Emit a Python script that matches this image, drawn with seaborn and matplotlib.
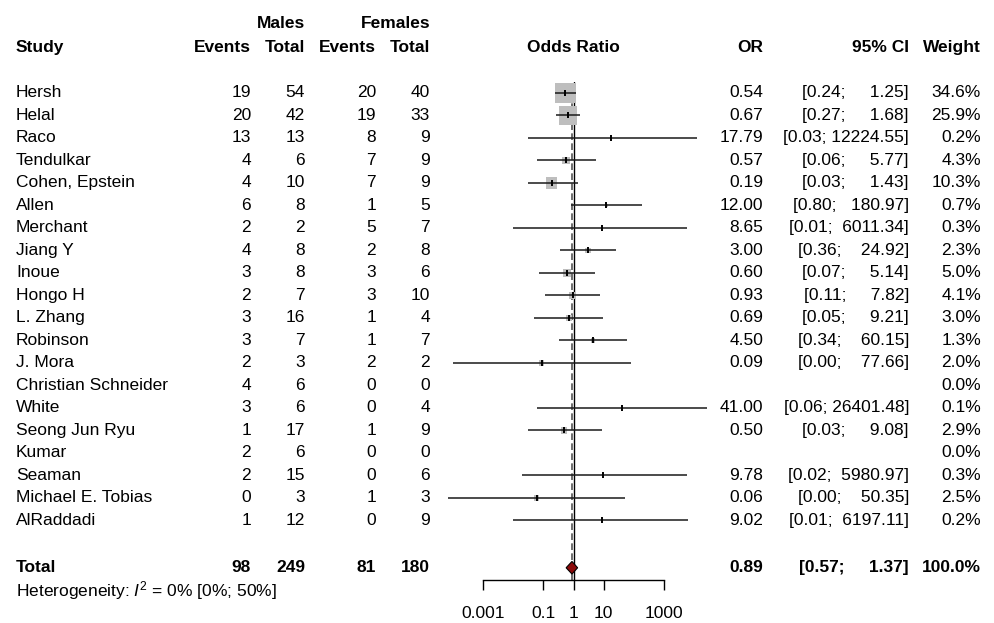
import numpy as np
import pandas as pd
import matplotlib
matplotlib.use("Agg")
import matplotlib.pyplot as plt
import matplotlib.transforms as mtransforms
import seaborn as sns

# data
studies = [
    "Hersh", "Helal", "Raco", "Tendulkar", "Cohen, Epstein", "Allen", "Merchant",
    "Jiang Y", "Inoue", "Hongo H", "L. Zhang", "Robinson", "J. Mora",
    "Christian Schneider", "White", "Seong Jun Ryu", "Kumar", "Seaman",
    "Michael E. Tobias", "AlRaddadi",
]
male_events = [19, 20, 13, 4, 4, 6, 2, 4, 3, 2, 3, 3, 2, 4, 3, 1, 2, 2, 0, 1]
male_total = [54, 42, 13, 6, 10, 8, 2, 8, 8, 7, 16, 7, 3, 6, 6, 17, 6, 15, 3, 12]
female_events = [20, 19, 8, 7, 7, 1, 5, 2, 3, 3, 1, 1, 2, 0, 0, 1, 0, 0, 1, 0]
female_total = [40, 33, 9, 9, 9, 5, 7, 8, 6, 10, 4, 7, 2, 0, 4, 9, 0, 6, 3, 9]
odds_ratio = [0.54, 0.67, 17.79, 0.57, 0.19, 12.00, 8.65, 3.00, 0.60, 0.93,
              0.69, 4.50, 0.09, np.nan, 41.00, 0.50, np.nan, 9.78, 0.06, 9.02]
ci_low = [0.24, 0.27, 0.03, 0.06, 0.03, 0.80, 0.01, 0.36, 0.07, 0.11,
          0.05, 0.34, 0.0001, np.nan, 0.06, 0.03, np.nan, 0.02, 0.00007, 0.01]
ci_high = [1.25, 1.68, 12224.55, 5.77, 1.43, 180.97, 6011.34, 24.92, 5.14, 7.82,
           9.21, 60.15, 77.66, np.nan, 26401.48, 9.08, np.nan, 5980.97, 50.35, 6197.11]
weight = [34.6, 25.9, 0.2, 4.3, 10.3, 0.7, 0.3, 2.3, 5.0, 4.1,
          3.0, 1.3, 2.0, 0.0, 0.1, 2.9, 0.0, 0.3, 2.5, 0.2]

pooled_or, pooled_low, pooled_high = 0.89, 0.57, 1.37
het_text = r"Heterogeneity: $I^2$ = 0% [0%; 50%]"
x_ticks = [0.001, 0.1, 1, 10, 1000]
x_tick_labels = ["0.001", "0.1", "1", "10", "1000"]

df = pd.DataFrame({
    "study": studies, "m_ev": male_events, "m_tot": male_total,
    "f_ev": female_events, "f_tot": female_total,
    "or_": odds_ratio, "lo": ci_low, "hi": ci_high, "weight": weight,
})
df["row"] = np.arange(len(df))
total_row = len(df) + 1.1
het_row = total_row + 1.0

sns.set_theme(style="white")
plt.rcParams["font.family"] = ["Liberation Sans", "DejaVu Sans"]
plt.rcParams["mathtext.fontset"] = "custom"
plt.rcParams["mathtext.rm"] = "Liberation Sans"
plt.rcParams["mathtext.it"] = "Liberation Sans:italic"
plt.rcParams["text.color"] = "black"
plt.rcParams["xtick.color"] = "black"
plt.rcParams["xtick.labelcolor"] = "black"
FS = 12.5

W, H = 994, 623
fig = plt.figure(figsize=(W / 100, H / 100), dpi=100)
fig.patch.set_facecolor("white")
ax = fig.add_axes([483 / W, 1 - 580 / H, 181 / W, (580 - 82) / H])
ax.set_facecolor("none")

# forest part
shown = df.dropna(subset=["or_"])
ax.hlines(shown["row"], shown["lo"], shown["hi"], color="#1a1a1a", lw=1.1,
          clip_on=False, zorder=3)
sns.scatterplot(data=shown, x="or_", y="row", size="weight", sizes=(0, 660),
                size_norm=(0, 100), marker="s", color="#BEBEBE", edgecolor="none",
                legend=False, ax=ax, clip_on=False, zorder=2)
ax.plot(shown["or_"], shown["row"], ls="none", marker="|", ms=5, mew=1.4,
        color="black", clip_on=False, zorder=4)

ax.axvline(1, color="black", lw=1.0, zorder=1)
ax.axvline(pooled_or, color="#555555", lw=1.2, ls=(0, (4, 2)), zorder=1)
ax.fill([pooled_low, pooled_or, pooled_high, pooled_or],
        [total_row, total_row - 0.28, total_row, total_row + 0.28],
        facecolor="#8B0A0A", edgecolor="black", lw=0.8, clip_on=False, zorder=5)

ax.set_xscale("log")
ax.set_xlim(1e-3, 1e3)
ax.set_ylim((580 - 93) / 22.5, (82 - 93) / 22.5)
ax.set_xticks(x_ticks)
ax.set_xticklabels(x_tick_labels, fontsize=FS)
ax.minorticks_off()
ax.set_yticks([])
ax.set_xlabel("")
ax.set_ylabel("")
for side in ["left", "top", "right"]:
    ax.spines[side].set_visible(False)
ax.spines["bottom"].set_color("black")
ax.spines["bottom"].set_linewidth(1.0)
ax.tick_params(axis="x", direction="out", length=7.5, width=1.0, color="black",
               pad=11, bottom=True)

# text columns
trans = mtransforms.blended_transform_factory(fig.transFigure, ax.transData)
trans_mid = mtransforms.blended_transform_factory(ax.transData, ax.transData)


def put(xpx, y, s, ha="right", bold=False):
    ax.text(xpx / W, y, s, transform=trans, ha=ha, va="center", fontsize=FS,
            fontweight="bold" if bold else "normal", color="black", clip_on=False)


def fmt_ci(lo, hi):
    return f"[{lo:.2f}; {hi:>8.2f}]"


cols = {"m_ev": 251, "m_tot": 305, "f_ev": 376, "f_tot": 430}
head_row = -2.0
put(305, head_row - 1.07, "Males", bold=True)
put(430, head_row - 1.07, "Females", bold=True)
put(16, head_row, "Study", ha="left", bold=True)
put(251, head_row, "Events", bold=True)
put(305, head_row, "Total", bold=True)
put(376, head_row, "Events", bold=True)
put(430, head_row, "Total", bold=True)
ax.text(1, head_row, "Odds Ratio", transform=trans_mid, ha="center", va="center",
        fontsize=FS, fontweight="bold", color="black")
put(763, head_row, "OR", bold=True)
put(909, head_row, "95% CI", bold=True)
put(981, head_row, "Weight", bold=True)

for _, r in df.iterrows():
    put(16, r["row"], r["study"], ha="left")
    for c, xpx in cols.items():
        put(xpx, r["row"], str(r[c]))
    if not np.isnan(r["or_"]):
        put(763, r["row"], f"{r['or_']:.2f}")
        put(909, r["row"], fmt_ci(r["lo"], r["hi"]))
    put(981, r["row"], f"{r['weight']:.1f}%")

put(16, total_row, "Total", ha="left", bold=True)
put(251, total_row, str(sum(male_events)), bold=True)
put(305, total_row, str(sum(male_total)), bold=True)
put(376, total_row, str(sum(female_events)), bold=True)
put(430, total_row, str(sum(female_total)), bold=True)
put(763, total_row, f"{pooled_or:.2f}", bold=True)
put(909, total_row, fmt_ci(pooled_low, pooled_high), bold=True)
put(981, total_row, "100.0%", bold=True)
put(16, het_row, het_text, ha="left")

fig.savefig("out.png", dpi=100, facecolor="white")
